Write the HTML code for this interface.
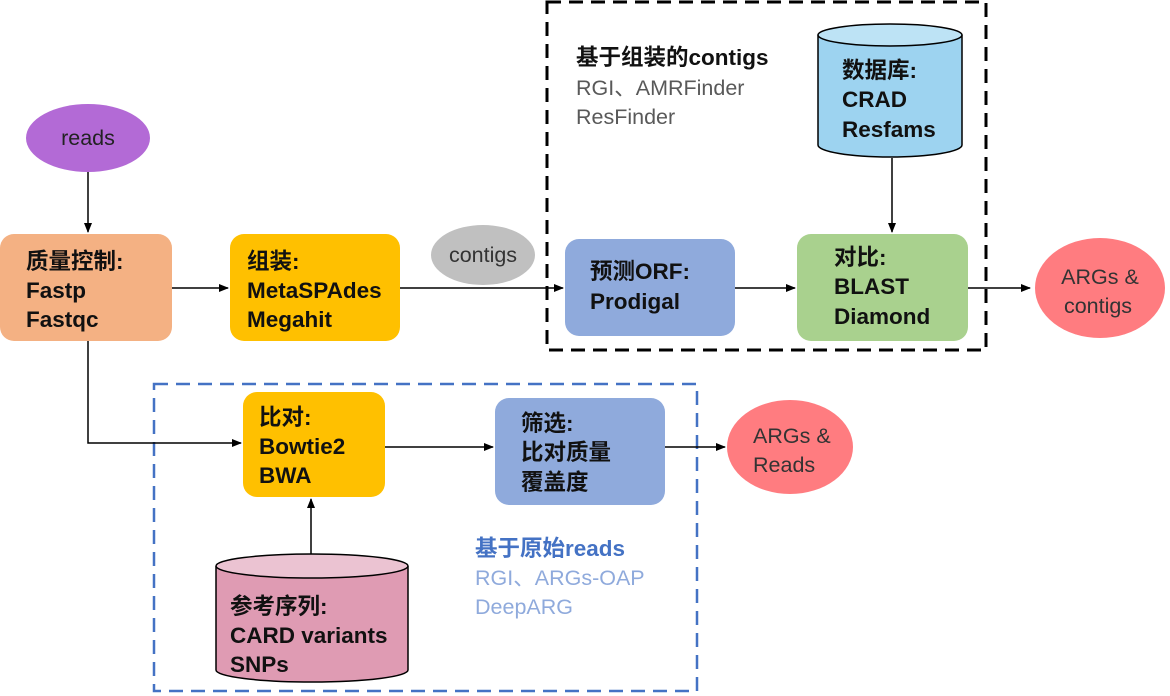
<!DOCTYPE html>
<html><head><meta charset="utf-8"><style>
html,body{margin:0;padding:0;background:#fff;}
svg{display:block;}
text{font-family:"Liberation Sans","Noto Sans CJK SC",sans-serif;}
.b{font-weight:bold;font-size:22.5px;fill:#111;}
.r{font-size:21.5px;}
</style></head><body>
<svg width="1170" height="696" viewBox="0 0 1170 696" xmlns="http://www.w3.org/2000/svg">
<defs><marker id="a" markerWidth="10" markerHeight="10" refX="9" refY="5" orient="auto" markerUnits="userSpaceOnUse"><path d="M0,1 L10,5 L0,9 Z" fill="#000"/></marker></defs>
<rect x="547" y="2" width="439" height="348" fill="none" stroke="#000" stroke-width="3" stroke-dasharray="14,8"/>
<rect x="154" y="384" width="543" height="307" fill="none" stroke="#4472c4" stroke-width="2.5" stroke-dasharray="14,8"/>
<g stroke="#000" stroke-width="1.5" fill="none">
<line x1="88" y1="170" x2="88" y2="232" marker-end="url(#a)"/>
<line x1="172" y1="288" x2="228" y2="288" marker-end="url(#a)"/>
<line x1="400" y1="288" x2="563" y2="288" marker-end="url(#a)"/>
<line x1="735" y1="288" x2="795" y2="288" marker-end="url(#a)"/>
<line x1="968" y1="288" x2="1030" y2="288" marker-end="url(#a)"/>
<line x1="892" y1="158" x2="892" y2="232" marker-end="url(#a)"/>
<polyline points="88,341 88,443 241,443" marker-end="url(#a)"/>
<line x1="385" y1="447" x2="493" y2="447" marker-end="url(#a)"/>
<line x1="665" y1="447" x2="725" y2="447" marker-end="url(#a)"/>
<line x1="311" y1="555" x2="311" y2="499" marker-end="url(#a)"/>
</g>
<ellipse cx="88" cy="138" rx="62" ry="34" fill="#b36ad6"/>
<text class="r" x="88" y="145" text-anchor="middle" fill="#222">reads</text>
<rect x="0" y="234" width="172" height="107" rx="14" fill="#f4b183"/>
<text class="b" x="26" y="269">质量控制:</text><text class="b" x="26" y="298">Fastp</text><text class="b" x="26" y="327">Fastqc</text>
<rect x="230" y="234" width="170" height="107" rx="14" fill="#ffc000"/>
<text class="b" x="247" y="269">组装:</text><text class="b" x="247" y="298">MetaSPAdes</text><text class="b" x="247" y="327">Megahit</text>
<ellipse cx="483" cy="255" rx="52" ry="30" fill="#c0c0c0"/>
<text class="r" x="483" y="262" text-anchor="middle" fill="#333">contigs</text>
<rect x="565" y="239" width="170" height="97" rx="14" fill="#8faadc"/>
<text class="b" x="590" y="279">预测ORF:</text><text class="b" x="590" y="309">Prodigal</text>
<rect x="797" y="234" width="171" height="107" rx="14" fill="#a9d18e"/>
<text class="b" x="834" y="265">对比:</text><text class="b" x="834" y="294">BLAST</text><text class="b" x="834" y="324">Diamond</text>
<path d="M818,35 L818,145 A72,12 0 0 0 962,145 L962,35" fill="#9dd3f0" stroke="#000" stroke-width="1.5"/>
<ellipse cx="890" cy="35" rx="72" ry="11" fill="#bde3f5" stroke="#000" stroke-width="1.5"/>
<text class="b" x="842" y="78">数据库:</text><text class="b" x="842" y="107">CRAD</text><text class="b" x="842" y="137">Resfams</text>
<ellipse cx="1100" cy="288" rx="65" ry="50" fill="#ff7c80"/>
<text class="r" x="1100" y="284" text-anchor="middle" fill="#333">ARGs &amp;</text>
<text class="r" x="1098" y="313" text-anchor="middle" fill="#333">contigs</text>
<text class="b" x="576" y="65">基于组装的contigs</text>
<text class="r" x="576" y="95" fill="#595959">RGI、AMRFinder</text>
<text class="r" x="576" y="124" fill="#595959">ResFinder</text>
<rect x="243" y="392" width="142" height="105" rx="14" fill="#ffc000"/>
<text class="b" x="259" y="425">比对:</text><text class="b" x="259" y="454">Bowtie2</text><text class="b" x="259" y="483">BWA</text>
<rect x="495" y="398" width="170" height="107" rx="14" fill="#8faadc"/>
<text class="b" x="521" y="431">筛选:</text><text class="b" x="521" y="460">比对质量</text><text class="b" x="521" y="490">覆盖度</text>
<ellipse cx="790" cy="447" rx="63" ry="47" fill="#ff7c80"/>
<text class="r" x="753" y="443" fill="#333">ARGs &amp;</text>
<text class="r" x="753" y="472" fill="#333">Reads</text>
<path d="M216,566 L216,670 A96,12 0 0 0 408,670 L408,566" fill="#df9bb3" stroke="#000" stroke-width="1.5"/>
<ellipse cx="312" cy="566" rx="96" ry="12" fill="#ebc3d2" stroke="#000" stroke-width="1.5"/>
<text class="b" x="230" y="614">参考序列:</text><text class="b" x="230" y="643">CARD variants</text><text class="b" x="230" y="672">SNPs</text>
<text x="475" y="556" font-size="22.5" font-weight="bold" fill="#4472c4">基于原始reads</text>
<text class="r" x="475" y="585" fill="#8faadc">RGI、ARGs-OAP</text>
<text class="r" x="475" y="614" fill="#8faadc">DeepARG</text>
</svg>
</body></html>
